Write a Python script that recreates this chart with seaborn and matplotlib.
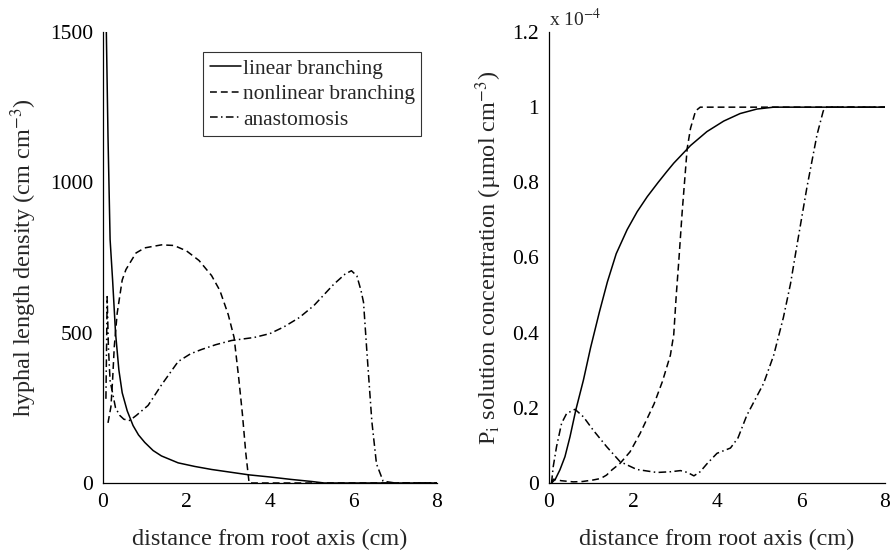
import numpy as np
import pandas as pd
import matplotlib
matplotlib.use("Agg")
import matplotlib.pyplot as plt
import seaborn as sns

# ---------------- data ----------------
# Left panel: hyphal length density (cm cm^-3)
lin_x = [0.08, 0.12, 0.17, 0.23, 0.30, 0.38, 0.46, 0.58, 0.72, 0.85, 1.0, 1.2, 1.4, 1.8,
         2.2, 2.6, 3.0, 3.5, 4.0, 4.5, 5.0, 5.3, 8.0]
lin_y = [1500, 1150, 810, 675, 500, 376, 300, 240, 191, 160, 135, 108, 90, 67,
         55, 45, 37, 27, 20, 12, 5, 0, 0]

nonlin_x = [0.12, 0.19, 0.23, 0.27, 0.34, 0.46, 0.55, 0.68, 0.79, 1.0, 1.4, 1.7, 2.0, 2.3,
            2.6, 2.8, 3.0, 3.14, 3.25, 3.34, 3.42, 3.5, 4.0, 8.0]
nonlin_y = [200, 254, 343, 453, 565, 675, 710, 740, 765, 782, 792, 790, 772, 740,
            690, 640, 560, 484, 350, 228, 100, 0, 0, 0]

anast_x = [0.07, 0.1, 0.13, 0.17, 0.23, 0.3, 0.4, 0.5, 0.64, 0.8, 1.08, 1.4, 1.8, 2.1,
           2.36, 2.7, 3.08, 3.62, 4.0, 4.33, 4.7, 5.05, 5.52, 5.8, 5.95, 6.08, 6.18,
           6.24, 6.32, 6.44, 6.55, 6.71, 7.0, 8.0]
anast_y = [280, 620, 450, 340, 299, 250, 225, 212, 208, 225, 258, 326, 404, 430,
           444, 460, 474, 484, 497, 519, 550, 590, 660, 695, 706, 689, 640,
           601, 438, 204, 64, 6, 0, 0]

# Right panel: Pi solution concentration (x 1e-4 umol cm^-3)
plin_x = [0.06, 0.15, 0.26, 0.38, 0.5, 0.64, 0.82, 0.99, 1.2, 1.39, 1.6, 1.86, 2.1,
          2.34, 2.6, 2.8, 2.97, 3.37, 3.76, 4.16, 4.55, 4.95, 5.35, 8.0]
plin_y = [0, 0.01, 0.035, 0.07, 0.123, 0.195, 0.274, 0.36, 0.455, 0.535, 0.61, 0.674, 0.722,
          0.762, 0.8, 0.828, 0.851, 0.898, 0.935, 0.963, 0.983, 0.995, 1.0, 1.0]

pnon_x = [0.06, 0.1, 0.3, 0.58, 0.8, 1.05, 1.23, 1.37, 1.5, 1.69, 1.93, 2.17, 2.5, 2.7,
          2.89, 2.97, 3.03, 3.09, 3.17, 3.29, 3.37, 3.49, 3.6, 8.0]
pnon_y = [0, 0.01, 0.006, 0.003, 0.004, 0.008, 0.012, 0.021, 0.035, 0.052, 0.083, 0.132, 0.21, 0.27,
          0.34, 0.395, 0.5, 0.59, 0.72, 0.89, 0.944, 0.99, 1.0, 1.0]

pana_x = [0.06, 0.1, 0.18, 0.3, 0.42, 0.62, 0.82, 1.05, 1.37, 1.69, 2.09, 2.57, 2.9, 3.13,
          3.3, 3.45, 3.6, 3.76, 4.0, 4.32, 4.5, 4.71, 5.11, 5.35, 5.58, 5.75, 5.9, 6.14,
          6.38, 6.53, 6.61, 8.0]
pana_y = [0, 0.043, 0.097, 0.159, 0.185, 0.196, 0.176, 0.141, 0.097, 0.057, 0.036, 0.028, 0.03, 0.033,
          0.028, 0.019, 0.03, 0.051, 0.079, 0.093, 0.12, 0.18, 0.265, 0.34, 0.44, 0.53, 0.63, 0.786,
          0.926, 0.99, 1.0, 1.0]

labels = ["linear branching", "nonlinear branching", "anastomosis"]
x_ticks = [0, 2, 4, 6, 8]
left_yticks = [0, 500, 1000, 1500]
right_yticks = [0, 0.2, 0.4, 0.6, 0.8, 1.0, 1.2]
right_yticklabels = ["0", "0.2", "0.4", "0.6", "0.8", "1", "1.2"]

# ---------------- style ----------------
sns.set_style("white")
plt.rcParams["font.family"] = ["Liberation Serif", "DejaVu Serif"]
plt.rcParams["mathtext.fontset"] = "stix"

LW = 1.1
styles = [dict(linestyle="-"),
          dict(linestyle=(0, (4.5, 2.6))),
          dict(linestyle=(0, (5.0, 2.2, 1.0, 2.2)))]

fig = plt.figure(figsize=(8.93, 5.5), dpi=100)
axL = fig.add_axes([103 / 893, 1 - 483 / 550, 334 / 893, 451 / 550])
axR = fig.add_axes([549 / 893, 1 - 483 / 550, 336 / 893, 451 / 550])

left_series = [(lin_x, lin_y), (nonlin_x, nonlin_y), (anast_x, anast_y)]
right_series = [(plin_x, plin_y), (pnon_x, pnon_y), (pana_x, pana_y)]

for (xs, ys), lab, st in zip(left_series, labels, styles):
    df = pd.DataFrame({"x": xs, "y": ys})
    sns.lineplot(data=df, x="x", y="y", ax=axL, color="black", lw=LW,
                 label=lab, sort=False, estimator=None, **st)

for (xs, ys), lab, st in zip(right_series, labels, styles):
    df = pd.DataFrame({"x": xs, "y": ys})
    sns.lineplot(data=df, x="x", y="y", ax=axR, color="black", lw=LW,
                 sort=False, estimator=None, legend=False, **st)

TICK_FS = 15.5
LABEL_FS = 17.5

for ax in (axL, axR):
    ax.set_xlim(0, 8)
    ax.set_xticks(x_ticks)
    ax.set_xticklabels([str(t) for t in x_ticks])
    for s in ("top", "right"):
        ax.spines[s].set_visible(False)
    for s in ("left", "bottom"):
        ax.spines[s].set_linewidth(0.9)
        ax.spines[s].set_color("black")
    ax.tick_params(direction="in", length=5, width=0.8, labelsize=TICK_FS,
                   pad=7, colors="black")
    ax.set_xlabel("distance from root axis (cm)", fontsize=LABEL_FS, labelpad=12)
    ax.set_facecolor("white")

axL.set_ylim(0, 1500)
axL.set_yticks(left_yticks)
axL.set_yticklabels([str(t) for t in left_yticks])
axL.set_ylabel(r"hyphal length density (cm cm$^{-3}$)", fontsize=LABEL_FS, labelpad=8)

axR.set_ylim(0, 1.2)
axR.set_yticks(right_yticks)
axR.set_yticklabels(right_yticklabels)
axR.set_ylabel(r"P$_\mathrm{i}$ solution concentration (µmol cm$^{-3}$)",
               fontsize=LABEL_FS, labelpad=6)
axR.text(0.0, 1.005, r"x 10$^{-4}$", transform=axR.transAxes, ha="left",
         va="bottom", fontsize=14)

leg = axL.legend(loc="upper left", bbox_to_anchor=(0.30, 0.955), fontsize=15.5,
                 frameon=True, fancybox=False, handlelength=1.45, handletextpad=0.1,
                 borderpad=0.3, labelspacing=0.25, borderaxespad=0)
leg.get_frame().set_edgecolor("black")
leg.get_frame().set_linewidth(0.8)

fig.patch.set_facecolor("white")
fig.savefig("out.png", dpi=100, facecolor="white")
